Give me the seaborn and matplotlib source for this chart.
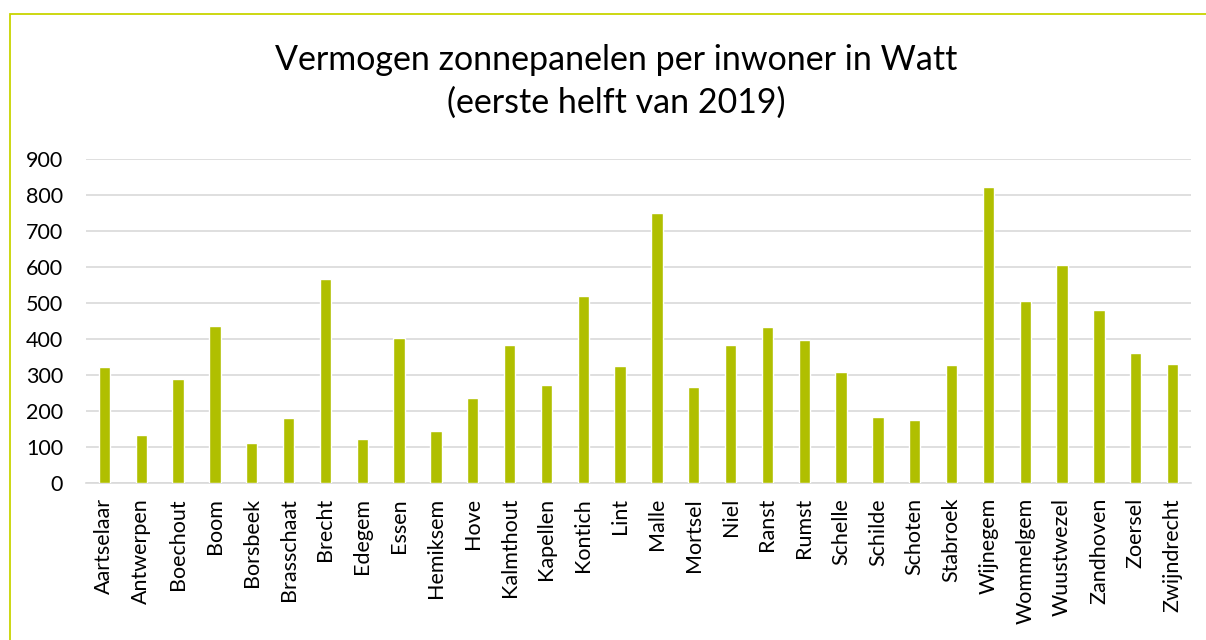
import matplotlib.pyplot as plt
import matplotlib.patches as mpatches
import seaborn as sns
import pandas as pd

gemeenten = ["Aartselaar", "Antwerpen", "Boechout", "Boom", "Borsbeek", "Brasschaat",
             "Brecht", "Edegem", "Essen", "Hemiksem", "Hove", "Kalmthout", "Kapellen",
             "Kontich", "Lint", "Malle", "Mortsel", "Niel", "Ranst", "Rumst", "Schelle",
             "Schilde", "Schoten", "Stabroek", "Wijnegem", "Wommelgem", "Wuustwezel",
             "Zandhoven", "Zoersel", "Zwijndrecht"]
watt_per_inwoner = [322, 134, 289, 436, 109, 180, 566, 121, 402, 145, 235, 383, 273,
                    519, 324, 750, 265, 383, 432, 397, 309, 183, 174, 327, 823, 504,
                    604, 481, 360, 331]
y_ticks = [0, 100, 200, 300, 400, 500, 600, 700, 800, 900]

sns.set_style("white")
plt.rcParams['font.family'] = ['Lato', 'DejaVu Sans']
plt.rcParams['text.color'] = 'black'

df = pd.DataFrame({"gemeente": gemeenten, "watt": watt_per_inwoner})

fig = plt.figure(figsize=(12.06, 6.4), dpi=100)
ax = fig.add_axes([86 / 1206, 1 - 482.7 / 640, (1191 - 86) / 1206, (482.7 - 159) / 640])

sns.barplot(data=df, x="gemeente", y="watt", color="#b0bf00", saturation=1,
            width=0.31, ax=ax, zorder=3)

ax.set_ylim(0, 900)
ax.set_xlim(-0.5, len(gemeenten) - 0.5)
ax.set_yticks(y_ticks)
ax.yaxis.grid(True, color="#d9d9d9", linewidth=1.2, zorder=0)
ax.set_axisbelow(True)
for s in ["top", "right", "left"]:
    ax.spines[s].set_visible(False)
ax.spines["bottom"].set_color("#d9d9d9")
ax.spines["bottom"].set_linewidth(1.2)
ax.tick_params(axis="both", length=0, labelsize=15.5, colors="#000000")
ax.tick_params(axis="y", pad=16.5)
ax.tick_params(axis="x", pad=11)
plt.setp(ax.get_xticklabels(), rotation=90)
ax.set_xlabel("")
ax.set_ylabel("")

fig.text(616 / 1206, 1 - 60 / 640, "Vermogen zonnepanelen per inwoner in Watt",
         ha="center", va="center", fontsize=24.5, color="black")
fig.text(616 / 1206, 1 - 103 / 640, "(eerste helft van 2019)",
         ha="center", va="center", fontsize=24.5, color="black")

# chart frame (top and left edge visible)
frame = mpatches.Rectangle((10 / 1206, -0.05), 1.2, 1 - 14 / 640 + 0.05,
                           transform=fig.transFigure, fill=False,
                           edgecolor="#c8d400", linewidth=1.3)
fig.patches.append(frame)

fig.savefig("out.png", dpi=100)
